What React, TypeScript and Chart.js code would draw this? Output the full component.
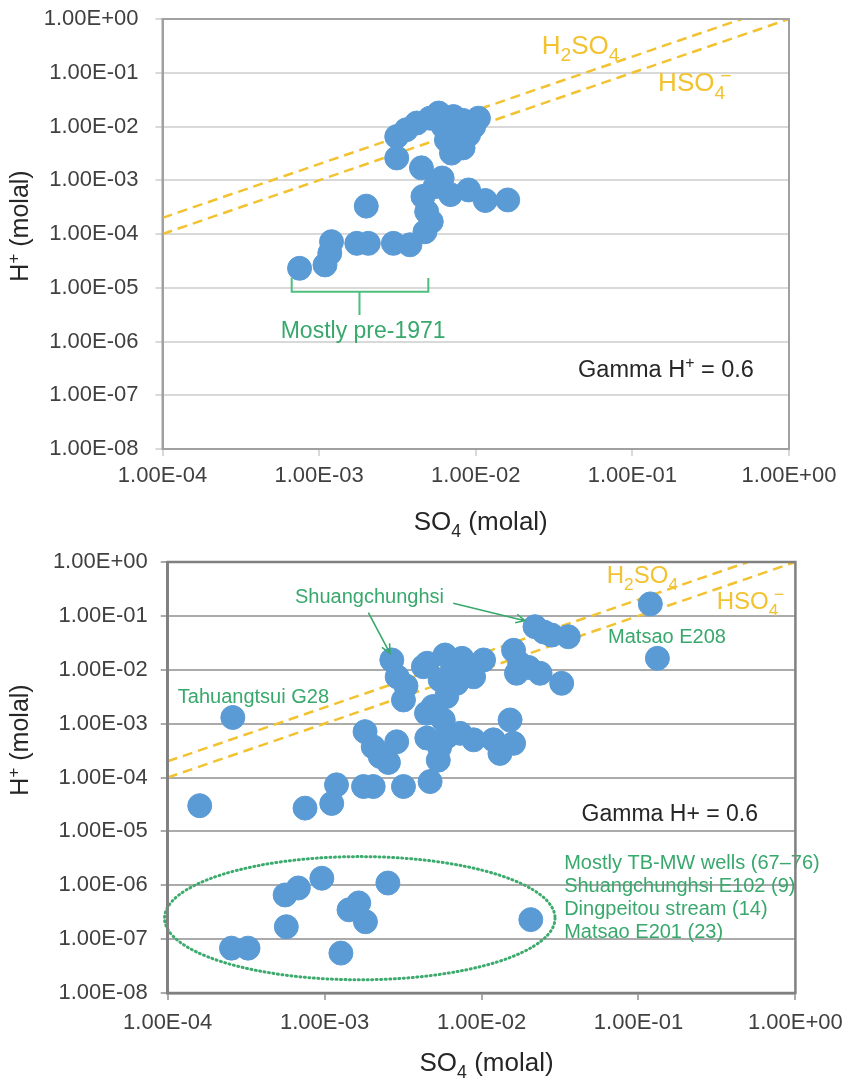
import React, { useEffect, useRef } from 'react';
import { Chart, registerables } from 'chart.js';

Chart.register(...registerables);

const FONT = '"Liberation Sans", Arial, Helvetica, sans-serif';

// ---- axis ticks ----
const xTickValues = [1e-4, 1e-3, 1e-2, 1e-1, 1];
const xTickLabels = ['1.00E-04', '1.00E-03', '1.00E-02', '1.00E-01', '1.00E+00'];
const yTickValues = [1, 1e-1, 1e-2, 1e-3, 1e-4, 1e-5, 1e-6, 1e-7, 1e-8];
const yTickLabels = ['1.00E+00', '1.00E-01', '1.00E-02', '1.00E-03', '1.00E-04', '1.00E-05', '1.00E-06', '1.00E-07', '1.00E-08'];

// ---- top chart samples ----
const topSO4 = [7.5e-4, 1.09e-3, 1.17e-3, 1.2e-3, 1.74e-3, 2.06e-3, 2.0e-3, 2.98e-3, 3.8e-3, 4.74e-3, 5.2e-3, 4.86e-3, 4.6e-3, 4.5e-3, 6.1e-3, 6.9e-3, 9.0e-3, 1.15e-2, 1.6e-2, 5.5e-3, 3.13e-3, 3.13e-3, 3.6e-3, 4.2e-3, 5.1e-3, 5.8e-3, 7.2e-3, 1.04e-2, 9.0e-3, 8.3e-3, 7.0e-3, 6.5e-3, 7.6e-3, 6.2e-3, 9.7e-3, 8.3e-3];
const topH = [2.3e-5, 2.66e-5, 4.4e-5, 7.2e-5, 6.7e-5, 6.7e-5, 3.3e-4, 6.7e-5, 6.3e-5, 1.1e-4, 1.7e-4, 2.6e-4, 5e-4, 1.7e-3, 1.1e-3, 5.4e-4, 6.6e-4, 4.2e-4, 4.3e-4, 7.6e-4, 6.5e-3, 2.6e-3, 8.7e-3, 1.16e-2, 1.43e-2, 1.78e-2, 1.53e-2, 1.43e-2, 7.0e-3, 4.0e-3, 3.2e-3, 5.6e-3, 8.7e-3, 1e-2, 1e-2, 1.3e-2];

// ---- bottom chart samples ----
const bottomSO4 = [
  2.19e-2, 2.5e-2, 2.8e-2, 3.57e-2,
  1.6e-2, 1.75e-2, 1.67e-2, 2.0e-2, 2.36e-2, 3.24e-2,
  2.68e-3, 2.9e-3, 3.3e-3, 3.18e-3,
  4.5e-3, 5.85e-3, 7.5e-3, 1.03e-2, 8.9e-3, 6.95e-3, 5.45e-3, 6e-3, 4.9e-3, 4.46e-3, 5.7e-3, 8.45e-3, 6.6e-3, 4.26e-3,
  1.81e-3, 2.04e-3, 2.26e-3, 2.88e-3, 4.48e-3, 5.3e-3, 4.7e-3, 3.18e-3, 2.55e-3, 6e-3, 7.3e-3, 8.9e-3, 1.19e-2, 1.52e-2, 1.6e-2, 1.31e-2, 5.4e-3,
  1.19e-3, 1.11e-3, 1.77e-3, 2.04e-3, 7.5e-4,
  2.6e-4, 1.6e-4,
  1.19e-1, 1.32e-1,
  2.55e-4, 3.25e-4, 5.6e-4, 6.8e-4, 5.7e-4, 9.6e-4, 2.53e-3, 1.43e-3, 1.65e-3, 1.82e-3, 1.27e-3, 2.06e-2,
];
const bottomH = [
  6.3e-2, 5e-2, 4.4e-2, 4.1e-2,
  2.3e-2, 1.3e-2, 8.6e-3, 1.1e-2, 8.6e-3, 5.6e-3,
  1.52e-2, 7.4e-3, 5e-3, 2.75e-3,
  1.32e-2, 1.88e-2, 1.63e-2, 1.52e-2, 7.4e-3, 5.6e-3, 6.5e-3, 3.2e-3, 2.07e-3, 1.56e-3, 1.17e-3, 1e-2, 1e-2, 1.14e-2,
  7.1e-4, 3.7e-4, 2.45e-4, 4.6e-4, 5.4e-4, 2.1e-4, 8.4e-5, 6.8e-5, 1.9e-4, 5.7e-4, 6.6e-4, 5e-4, 5e-4, 1.17e-3, 4.3e-4, 2.8e-4, 3.6e-4,
  7.3e-5, 3.3e-5, 6.8e-5, 6.8e-5, 2.7e-5,
  1.3e-3, 3.0e-5,
  1.67e-1, 1.63e-2,
  6.8e-8, 6.8e-8, 6.6e-7, 8.9e-7, 1.7e-7, 1.35e-6, 1.1e-6, 3.5e-7, 4.7e-7, 2.1e-7, 5.5e-8, 2.3e-7,
];

// ---- reference lines: H2SO4 (H = 2·SO4) and HSO4- (H = SO4) ----
const h2so4SO4 = [1e-4, 0.5];
const h2so4H = [2e-4, 1];
const hso4SO4 = [1e-4, 1];
const hso4H = [1e-4, 1];

const BLUE = '#5B9BD5';
const GOLD = '#F2C230';
const GREEN = '#38A86C';
const TEXT = '#262626';
const TICK = '#404040';

type Seg = { t: string; s?: 'sub' | 'sup'; back?: number };

function drawRich(ctx: CanvasRenderingContext2D, x: number, y: number, segs: Seg[], size: number, color: string, align: 'left' | 'center' = 'left', subRatio = 0.68) {
  ctx.save();
  ctx.fillStyle = color;
  ctx.textBaseline = 'alphabetic';
  ctx.textAlign = 'left';
  let total = 0;
  let prevW = 0;
  const offs: number[] = [];
  segs.forEach((sg) => {
    const fs = sg.s ? size * subRatio : size;
    ctx.font = `${fs}px ${FONT}`;
    const w = ctx.measureText(sg.t).width;
    const shift = sg.back ? -prevW * sg.back : 0;
    offs.push(total + shift);
    total = total + shift + w;
    prevW = w;
  });
  const x0 = align === 'center' ? x - total / 2 : x;
  segs.forEach((sg, i) => {
    const fs = sg.s ? size * subRatio : size;
    ctx.font = `${fs}px ${FONT}`;
    const dy = sg.s === 'sub' ? size * 0.28 : sg.s === 'sup' ? -size * 0.38 : 0;
    ctx.fillText(sg.t, x0 + offs[i], y + dy);
  });
  ctx.restore();
}

function arrow(ctx: CanvasRenderingContext2D, x1: number, y1: number, x2: number, y2: number, color: string) {
  ctx.save();
  ctx.strokeStyle = color;
  ctx.lineWidth = 1.6;
  ctx.beginPath();
  ctx.moveTo(x1, y1);
  ctx.lineTo(x2, y2);
  const a = Math.atan2(y2 - y1, x2 - x1);
  const L = 10;
  ctx.moveTo(x2 - L * Math.cos(a - 0.45), y2 - L * Math.sin(a - 0.45));
  ctx.lineTo(x2, y2);
  ctx.lineTo(x2 - L * Math.cos(a + 0.45), y2 - L * Math.sin(a + 0.45));
  ctx.stroke();
  ctx.restore();
}

type Spec = {
  so4: number[];
  h: number[];
  padTop: number;
  padRight: number;
  yWidth: number;
  xHeight: number;
  xTickPad: number;
  yTickPad: number;
  gridColor: string;
  frameColor: string;
  frameWidth: number;
  yTitle: { x: number; y: number };
  xTitleY: number;
  annotate: (ctx: CanvasRenderingContext2D, X: (v: number) => number, Y: (v: number) => number) => void;
};

function buildConfig(spec: Spec): any {
  const points = spec.so4.map((x, i) => ({ x, y: spec.h[i] }));
  const l1 = h2so4SO4.map((x, i) => ({ x, y: h2so4H[i] }));
  const l2 = hso4SO4.map((x, i) => ({ x, y: hso4H[i] }));
  const plugin = {
    id: 'annot',
    afterDatasetsDraw(chart: any) {
      const ctx = chart.ctx as CanvasRenderingContext2D;
      const X = (v: number) => chart.scales.x.getPixelForValue(v);
      const Y = (v: number) => chart.scales.y.getPixelForValue(v);
      spec.annotate(ctx, X, Y);
    },
    afterDraw(chart: any) {
      const ctx = chart.ctx as CanvasRenderingContext2D;
      const a = chart.chartArea;
      ctx.save();
      ctx.strokeStyle = spec.frameColor;
      ctx.lineWidth = spec.frameWidth;
      ctx.strokeRect(a.left, a.top, a.right - a.left, a.bottom - a.top);
      ctx.restore();
      // axis titles
      ctx.save();
      ctx.translate(spec.yTitle.x, spec.yTitle.y);
      ctx.rotate(-Math.PI / 2);
      drawRich(ctx, 0, 0, [{ t: 'H' }, { t: '+', s: 'sup' }, { t: ' (molal)' }], 25, TEXT, 'center');
      ctx.restore();
      drawRich(ctx, (a.left + a.right) / 2 + 5, spec.xTitleY, [{ t: 'SO' }, { t: '4', s: 'sub' }, { t: ' (molal)' }], 26, TEXT, 'center');
    },
  };
  return {
    type: 'scatter',
    data: {
      datasets: [
        { data: points, pointRadius: 12, pointBorderWidth: 1, pointBackgroundColor: BLUE, pointBorderColor: BLUE, pointHoverRadius: 12 },
        { data: l1, showLine: true, pointRadius: 0, borderColor: GOLD, borderWidth: 2.5, borderDash: [10, 6] },
        { data: l2, showLine: true, pointRadius: 0, borderColor: GOLD, borderWidth: 2.5, borderDash: [10, 6] },
      ],
    },
    options: {
      responsive: false,
      animation: false,
      devicePixelRatio: 1,
      layout: { padding: { left: 0, right: spec.padRight, top: spec.padTop, bottom: 0 } },
      plugins: { legend: { display: false }, tooltip: { enabled: false } },
      scales: {
        x: {
          type: 'logarithmic',
          min: 1e-4,
          max: 1,
          afterBuildTicks: (s: any) => { s.ticks = xTickValues.map((v) => ({ value: v })); },
          afterFit: (s: any) => { s.height = spec.xHeight; s.paddingLeft = 0; s.paddingRight = 0; },
          ticks: { callback: (_v: any, i: number) => xTickLabels[i], font: { family: FONT, size: 22 }, color: TICK, padding: spec.xTickPad, maxRotation: 0, autoSkip: false },
          grid: { drawOnChartArea: false, drawTicks: true, tickLength: 7, color: spec.gridColor, lineWidth: 2 },
          border: { display: true, color: spec.frameColor, width: spec.frameWidth },
        },
        y: {
          type: 'logarithmic',
          min: 1e-8,
          max: 1,
          afterBuildTicks: (s: any) => { s.ticks = yTickValues.map((v) => ({ value: v })); },
          afterFit: (s: any) => { s.width = spec.yWidth; s.paddingTop = 0; s.paddingBottom = 0; },
          ticks: { callback: (_v: any, i: number) => yTickLabels[i], font: { family: FONT, size: 22 }, color: TICK, padding: spec.yTickPad, autoSkip: false },
          grid: { color: spec.gridColor, lineWidth: 2, tickLength: 7 },
          border: { display: true, color: spec.frameColor, width: spec.frameWidth },
        },
      },
    },
    plugins: [plugin],
  };
}

const topSpec: Spec = {
  so4: topSO4,
  h: topH,
  padTop: 19,
  padRight: 60,
  yWidth: 162.5,
  xHeight: 91,
  xTickPad: 7,
  yTickPad: 17,
  gridColor: '#D9D9D9',
  frameColor: '#A0A0A0',
  frameWidth: 2,
  yTitle: { x: 28, y: 226 },
  xTitleY: 530,
  annotate: (ctx, X, Y) => {
    drawRich(ctx, X(0.0264), Y(0.226), [{ t: 'H' }, { t: '2', s: 'sub' }, { t: 'SO' }, { t: '4', s: 'sub' }], 26, GOLD, 'left', 0.74);
    drawRich(ctx, X(0.146), Y(0.0449), [{ t: 'HSO' }, { t: '4', s: 'sub' }, { t: '\u2212', s: 'sup', back: 0.45 }], 26, GOLD, 'left', 0.74);
    drawRich(ctx, X(0.045), Y(2.18e-7), [{ t: 'Gamma H' }, { t: '+', s: 'sup' }, { t: ' = 0.6' }], 23.5, TEXT);
    drawRich(ctx, X(1.91e-3), Y(1.15e-6), [{ t: 'Mostly pre-1971' }], 23, GREEN, 'center');
    // bracket
    const xl = X(6.68e-4), xr = X(4.98e-3), xc = X(1.81e-3);
    const yt = Y(1.52e-5), yh = Y(8.46e-6), yb = Y(3.11e-6);
    ctx.save();
    ctx.strokeStyle = '#4DBE7E';
    ctx.lineWidth = 2;
    ctx.beginPath();
    ctx.moveTo(xl, yt); ctx.lineTo(xl, yh); ctx.lineTo(xr, yh); ctx.lineTo(xr, yt);
    ctx.moveTo(xc, yh); ctx.lineTo(xc, yb);
    ctx.stroke();
    ctx.restore();
  },
};

const bottomSpec: Spec = {
  so4: bottomSO4,
  h: bottomH,
  padTop: 22,
  padRight: 53.6,
  yWidth: 167.7,
  xHeight: 88,
  xTickPad: 10,
  yTickPad: 13,
  gridColor: '#ABABAB',
  frameColor: '#808080',
  frameWidth: 2.5,
  yTitle: { x: 28, y: 200 },
  xTitleY: 531,
  annotate: (ctx, X, Y) => {
    drawRich(ctx, X(0.0628), Y(0.403), [{ t: 'H' }, { t: '2', s: 'sub' }, { t: 'SO' }, { t: '4', s: 'sub' }], 24, GOLD, 'left', 0.72);
    drawRich(ctx, X(0.315), Y(0.1325), [{ t: 'HSO' }, { t: '4', s: 'sub' }, { t: '\u2212', s: 'sup', back: 0.45 }], 24, GOLD, 'left', 0.72);
    drawRich(ctx, X(0.064), Y(0.0314), [{ t: 'Matsao E208' }], 20, GREEN);
    drawRich(ctx, X(6.47e-4), Y(0.176), [{ t: 'Shuangchunghsi' }], 20, GREEN);
    arrow(ctx, X(1.9e-3), Y(0.1146), X(2.61e-3), Y(0.0202), GREEN);
    arrow(ctx, X(6.6e-3), Y(0.171), X(1.89e-2), Y(0.0815), GREEN);
    drawRich(ctx, X(1.16e-4), Y(2.37e-3), [{ t: 'Tahuangtsui G28' }], 20, GREEN);
    drawRich(ctx, X(0.0434), Y(1.57e-5), [{ t: 'Gamma H+ = 0.6' }], 23, TEXT);
    const lx = X(0.0336);
    drawRich(ctx, lx, Y(2.01e-6), [{ t: 'Mostly TB-MW wells (67\u201376)' }], 20, GREEN);
    drawRich(ctx, lx, Y(7.55e-7), [{ t: 'Shuangchunghsi E102 (9)' }], 20, GREEN);
    drawRich(ctx, lx, Y(2.82e-7), [{ t: 'Dingpeitou stream (14)' }], 20, GREEN);
    drawRich(ctx, lx, Y(1.06e-7), [{ t: 'Matsao E201 (23)' }], 20, GREEN);
    // dotted ellipse
    const ex1 = X(9.55e-5), ex2 = X(0.0294), ey1 = Y(3.4e-6), ey2 = Y(1.76e-8);
    ctx.save();
    ctx.strokeStyle = '#3DAA6E';
    ctx.lineWidth = 3;
    ctx.setLineDash([1, 3.5]);
    ctx.lineCap = 'round';
    ctx.beginPath();
    ctx.ellipse((ex1 + ex2) / 2, (ey1 + ey2) / 2, (ex2 - ex1) / 2, (ey2 - ey1) / 2, 0, 0, Math.PI * 2);
    ctx.stroke();
    ctx.restore();
  },
};

export default function App() {
  const topRef = useRef<HTMLCanvasElement>(null);
  const botRef = useRef<HTMLCanvasElement>(null);
  useEffect(() => {
    const c1 = new Chart(topRef.current as HTMLCanvasElement, buildConfig(topSpec));
    const c2 = new Chart(botRef.current as HTMLCanvasElement, buildConfig(bottomSpec));
    return () => {
      c1.destroy();
      c2.destroy();
    };
  }, []);
  return (
    <div style={{ position: 'absolute', left: 0, top: 0, width: 849, height: 1081, background: '#fff' }}>
      <canvas ref={topRef} width={849} height={540} style={{ position: 'absolute', left: 0, top: 0, width: 849, height: 540 }} />
      <canvas ref={botRef} width={849} height={541} style={{ position: 'absolute', left: 0, top: 540, width: 849, height: 541 }} />
    </div>
  );
}
